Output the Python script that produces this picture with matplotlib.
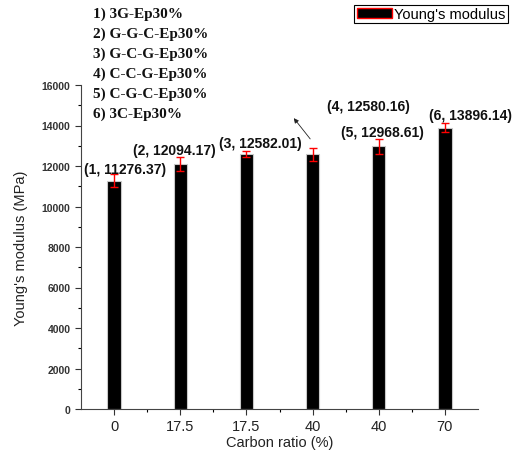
import numpy as np
import matplotlib.pyplot as plt
from matplotlib.patches import Patch

samples = ['1) 3G-Ep30%', '2) G-G-C-Ep30%', '3) G-C-G-Ep30%',
           '4) C-C-G-Ep30%', '5) C-G-C-Ep30%', '6) 3C-Ep30%']
carbon = ['0', '17.5', '17.5', '40', '40', '70']
modulus = [11276.37, 12094.17, 12582.01, 12580.16, 12968.61, 13896.14]
err = [310, 345, 160, 315, 360, 220]

# label offsets (x in bar units, y in MPa) relative to each bar top
lab_dx = [0.17, -0.09, 0.21, 0.85, 0.06, 0.38]
lab_dy = [580, 700, 550, 2380, 710, 620]

plt.rcParams['font.family'] = ['Liberation Sans', 'DejaVu Sans']

fig = plt.figure(figsize=(5.14, 4.56), dpi=100)
ax = fig.add_axes([81/514, 1-410/456, 397/514, 324/456])

pos = np.arange(1, len(modulus)+1)
ax.bar(pos, modulus, width=0.2, color='black', edgecolor='#c8c8c8', lw=0.8, zorder=2)
ax.errorbar(pos, modulus, yerr=err, fmt='none', ecolor='red', elinewidth=1,
            capsize=2.8, capthick=1, zorder=3)

for i in range(len(modulus)):
    txt = '(%d, %.2f)' % (i+1, modulus[i])
    ax.text(pos[i]+lab_dx[i], modulus[i]+lab_dy[i], txt, ha='center', va='center',
            fontsize=10, fontweight='bold', color='#111111')

# arrow for label 4
ax.annotate('', xy=(pos[3]-0.31, modulus[3]+1890), xytext=(pos[3]-0.01, modulus[3]+650),
            arrowprops=dict(arrowstyle='-|>', color='#222222', lw=0.6, mutation_scale=7))

ax.set_xlim(0.5, 6.5)
ax.set_ylim(0, 16000)
ax.set_xticks(pos)
ax.set_xticklabels(carbon, fontsize=10.5)
ax.set_xticks(pos[:-1]+0.5, minor=True)
ax.set_yticks(np.arange(0, 16001, 2000))
ax.set_yticks(np.arange(1000, 16000, 2000), minor=True)
ax.tick_params(axis='y', labelsize=7.5, colors='#333333', direction='out', length=4, width=0.8)
ax.tick_params(axis='y', which='minor', length=2.5, width=0.8)
ax.tick_params(axis='x', direction='out', length=4, width=0.8, colors='#333333', labelcolor='#222222')
ax.tick_params(axis='x', which='minor', length=2.5, width=0.8)
for t in ax.get_yticklabels():
    t.set_fontweight('bold')
ax.spines['top'].set_visible(False)
ax.spines['right'].set_visible(False)
ax.spines['left'].set_color('#444444')
ax.spines['bottom'].set_color('#444444')
ax.set_xlabel('Carbon ratio (%)', fontsize=10.5, labelpad=1, color='#222222')
ax.set_ylabel("Young's modulus (MPa)", fontsize=10.5, labelpad=10, color='#222222')

for i, s in enumerate(samples):
    fig.text(93/514, 1-(14+20*i)/456, s, fontsize=11, fontweight='bold',
             family='Liberation Serif', va='center', ha='left', color='#111111')

h = Patch(facecolor='black', edgecolor='red', lw=1)
leg = fig.legend([h], ["Young's modulus"], loc='upper right',
                 bbox_to_anchor=(508/514, 1-6/456), fontsize=10.5, fancybox=False,
                 borderpad=0.15, handlelength=2.4, handletextpad=0.2, borderaxespad=0,
                 framealpha=1, edgecolor='black')
leg.get_frame().set_linewidth(0.8)

fig.savefig('out.png', dpi=100)
